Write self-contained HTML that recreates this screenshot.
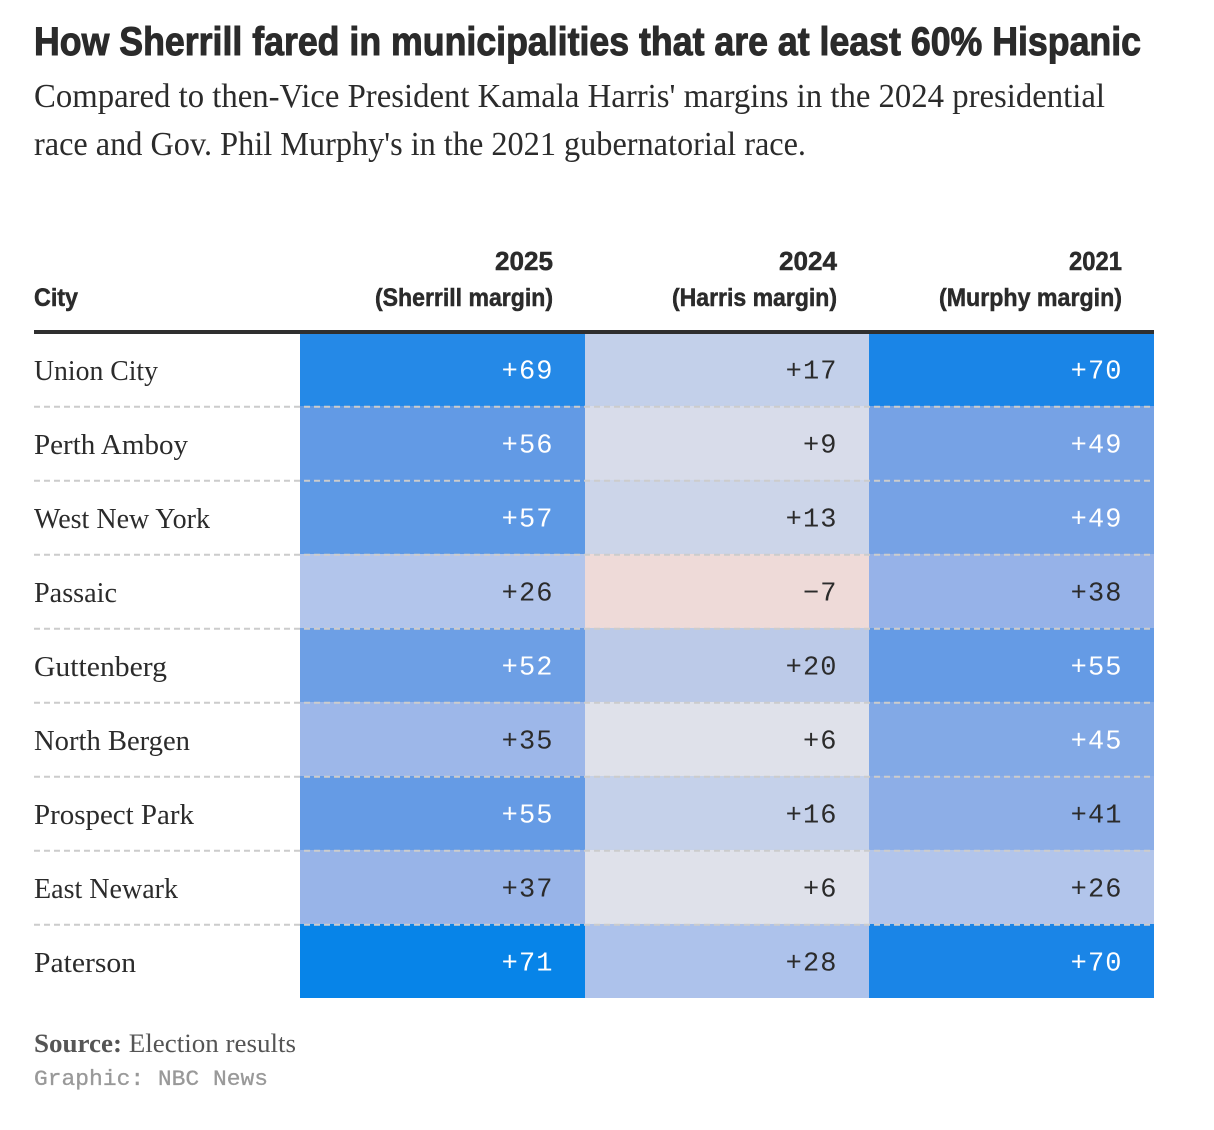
<!DOCTYPE html>
<html lang="en">
<head>
<meta charset="utf-8">
<title>How Sherrill fared in municipalities that are at least 60% Hispanic</title>
<style>
  html, body { margin: 0; padding: 0; background: #fff; }
  body { width: 1214px; height: 1130px; overflow: hidden; }
  svg { display: block; }
  .sans { font-family: "Liberation Sans", sans-serif; font-weight: 700; fill: #2b2b2b; stroke: #2b2b2b; stroke-width: 0.5px; }
  .title { stroke-width: 1px; }
  .serif { font-family: "Liberation Serif", serif; fill: #2b2b2b; }
  .mono { font-family: "Liberation Mono", monospace; }
</style>
</head>
<body>
<svg id="chart" xmlns="http://www.w3.org/2000/svg" width="1214" height="1130" viewBox="0 0 1214 1130">
  <text class="sans title" x="34" y="55" font-size="40" textLength="1107" lengthAdjust="spacingAndGlyphs">How Sherrill fared in municipalities that are at least 60% Hispanic</text>
  <text class="serif" x="34" y="107" font-size="34" textLength="1071" lengthAdjust="spacingAndGlyphs">Compared to then-Vice President Kamala Harris' margins in the 2024 presidential</text>
  <text class="serif" x="34" y="155" font-size="34" textLength="772" lengthAdjust="spacingAndGlyphs">race and Gov. Phil Murphy's in the 2021 gubernatorial race.</text>

  <text class="sans" x="34" y="306" font-size="25" textLength="44" lengthAdjust="spacingAndGlyphs">City</text>
  <text class="sans" x="495" y="270" font-size="26" textLength="58" lengthAdjust="spacingAndGlyphs">2025</text>
  <text class="sans" x="375" y="306" font-size="25" textLength="178" lengthAdjust="spacingAndGlyphs">(Sherrill margin)</text>
  <text class="sans" x="779" y="270" font-size="26" textLength="58" lengthAdjust="spacingAndGlyphs">2024</text>
  <text class="sans" x="672" y="306" font-size="25" textLength="165" lengthAdjust="spacingAndGlyphs">(Harris margin)</text>
  <text class="sans" x="1069" y="270" font-size="26" textLength="53" lengthAdjust="spacingAndGlyphs">2021</text>
  <text class="sans" x="939" y="306" font-size="25" textLength="183" lengthAdjust="spacingAndGlyphs">(Murphy margin)</text>

  <g id="cells"></g>
  <g id="rules"></g>
  <g id="labels"></g>
  <rect x="34" y="330" width="1120" height="4" fill="#2f2f2f"></rect>

  <text class="serif" x="34" y="1052" font-size="26" style="fill:#555" textLength="262" lengthAdjust="spacingAndGlyphs"><tspan font-weight="700">Source:</tspan> Election results</text>
  <text class="mono" x="34" y="1085" font-size="22" fill="#999" stroke="#999" stroke-width="0.3" textLength="234" lengthAdjust="spacingAndGlyphs">Graphic: NBC News</text>
</svg>
<script>
const cities = ["Union City", "Perth Amboy", "West New York", "Passaic", "Guttenberg", "North Bergen", "Prospect Park", "East Newark", "Paterson"];
const sherrill2025 = [69, 56, 57, 26, 52, 35, 55, 37, 71];
const harris2024 = [17, 9, 13, -7, 20, 6, 16, 6, 28];
const murphy2021 = [70, 49, 49, 38, 55, 45, 41, 26, 70];
const seriesKeys = ["sherrill-2025", "harris-2024", "murphy-2021"];
const seriesValues = [sherrill2025, harris2024, murphy2021];

const NS = "http://www.w3.org/2000/svg";
const colEdges = [300, 585, 869, 1154];
const rowTop = function (i) { return 332 + 74 * i; };
const rowHeight = 74;

// Rendered width of each city label, so the substitute serif matches the original's set width
const labelWidthFor = { "Union City": 124, "Perth Amboy": 154, "West New York": 176, "Passaic": 83, "Guttenberg": 133, "North Bergen": 156, "Prospect Park": 160, "East Newark": 144, "Paterson": 102 };

// Diverging colour scale: margin -> fill
const scaleDomain = [-7, 0, 6, 9, 13, 17, 20, 26, 38, 45, 49, 56, 69, 70, 71];
const scaleRange = ["#eedad8", "#e8e3e6", "#dfe1ea", "#d8dcea", "#ccd5e9", "#c3d0ea", "#bccae8", "#b2c5eb", "#96b2e8", "#82a9e6", "#76a2e5", "#629ae5", "#2589e7", "#1a85e7", "#0784e8"];

function hexToRgb(h) {
  return [parseInt(h.slice(1, 3), 16), parseInt(h.slice(3, 5), 16), parseInt(h.slice(5, 7), 16)];
}
function colorFor(v) {
  const d = scaleDomain;
  if (v <= d[0]) return scaleRange[0];
  if (v >= d[d.length - 1]) return scaleRange[d.length - 1];
  for (let k = 0; k < d.length - 1; k++) {
    if (v <= d[k + 1]) {
      const t = (v - d[k]) / (d[k + 1] - d[k]);
      const a = hexToRgb(scaleRange[k]);
      const b = hexToRgb(scaleRange[k + 1]);
      return "rgb(" + a.map(function (c, n) { return Math.round(c + (b[n] - c) * t); }).join(",") + ")";
    }
  }
}
function formatMargin(v) {
  return (v < 0 ? "\u2212" : "+") + Math.abs(v);
}

const cellsG = document.getElementById("cells");
const rulesG = document.getElementById("rules");
const labelsG = document.getElementById("labels");

cities.forEach(function (city, i) {
  const label = document.createElementNS(NS, "text");
  
  
  label.setAttribute("class", "serif");
  label.setAttribute("x", 34);
  label.setAttribute("y", rowTop(i) + 48);
  label.setAttribute("font-size", 29);
  label.setAttribute("textLength", labelWidthFor[city]);
  label.setAttribute("lengthAdjust", "spacingAndGlyphs");
  label.textContent = city;
  labelsG.appendChild(label);

  seriesValues.forEach(function (values, c) {
    const v = values[i];
    const cell = document.createElementNS(NS, "rect");
    
    
    cell.setAttribute("data-series", seriesKeys[c]);
    cell.setAttribute("x", colEdges[c]);
    cell.setAttribute("y", rowTop(i));
    cell.setAttribute("width", colEdges[c + 1] - colEdges[c]);
    cell.setAttribute("height", rowHeight);
    cell.setAttribute("fill", colorFor(v));
    cellsG.appendChild(cell);

    const txt = document.createElementNS(NS, "text");
    
    
    txt.setAttribute("class", "mono");
    txt.setAttribute("x", colEdges[c + 1] - 32 + 0.6);
    txt.setAttribute("y", rowTop(i) + 46.5);
    txt.setAttribute("text-anchor", "end");
    txt.setAttribute("font-size", 27);
    txt.setAttribute("letter-spacing", 1.1);
    txt.setAttribute("fill", v >= 45 ? "#ffffff" : "#2b2b2b");
    txt.textContent = formatMargin(v);
    labelsG.appendChild(txt);
  });

  if (i < cities.length - 1) {
    const line = document.createElementNS(NS, "line");
    
    
    line.setAttribute("x1", 34);
    line.setAttribute("x2", 1154);
    line.setAttribute("y1", rowTop(i + 1) + 0.8);
    line.setAttribute("y2", rowTop(i + 1) + 0.8);
    line.setAttribute("stroke", "#cccccc");
    line.setAttribute("stroke-width", 2);
    line.setAttribute("stroke-dasharray", "6 4");
    rulesG.appendChild(line);
  }
});
</script>
</body>
</html>
